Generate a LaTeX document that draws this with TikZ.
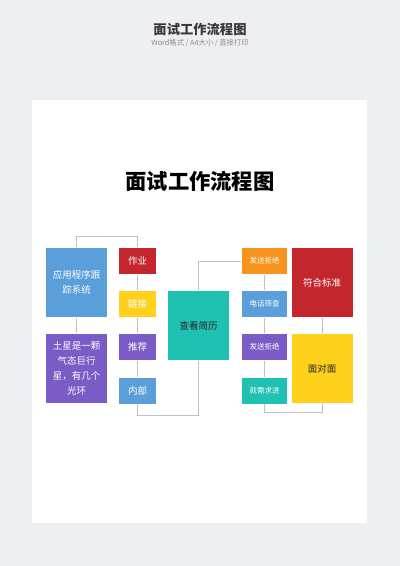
\documentclass[tikz,border=0pt]{standalone}
\usepackage{fontspec}
\setmainfont{Noto Sans CJK SC}
\newfontfamily\cjk{Noto Sans CJK SC}
\definecolor{bgc}{HTML}{EDEFF3}
\definecolor{linec}{HTML}{BCC1C9}
\definecolor{cblue}{HTML}{5A9FD9}
\definecolor{cpurple}{HTML}{7B5BC6}
\definecolor{cred}{HTML}{C4262E}
\definecolor{cyellow}{HTML}{FFD11C}
\definecolor{corange}{HTML}{F7941D}
\definecolor{cteal}{HTML}{1FC1B2}
\tikzset{
  box/.style={draw=white, line width=0.6pt, inner sep=0pt, align=center, text=white, font=\cjk\fontsize{9.5}{15}\selectfont},
  sbox/.style={box, minimum width=38pt, minimum height=27pt},
  rbox/.style={box, minimum width=46pt, minimum height=27pt, font=\cjk\fontsize{7.5}{9}\selectfont},
  bbox/.style={box, minimum width=62pt, minimum height=70pt},
  conn/.style={draw=linec, line width=0.9pt}
}
\begin{document}
\begin{tikzpicture}[x=1pt,y=-1pt]
\useasboundingbox (0,0) rectangle (400,566);
\fill[bgc] (0,0) rectangle (400,566);
\fill[black!6] (32.5,100.5) rectangle (368,524);
\fill[white] (32,100) rectangle (367,523);
\node (htitle) at (200,29) {\cjk\bfseries\fontsize{13.3}{15}\selectfont\color{black!78}面试工作流程图};
\node (hsub) at (200,43) {\cjk\fontsize{7.3}{8}\selectfont\color{black!45}Word格式 / A4大小 / 直接打印};
\node (mtitle) at (200,181) {\cjk\bfseries\fontsize{21.3}{24}\selectfont 面试工作流程图};
% left big boxes
\node[bbox, fill=cblue] (app) at (76.5,282.5) {应用程序跟\\踪系统};
\node[bbox, fill=cpurple] (saturn) at (76.5,368.5) {土星是一颗\\气态巨行\\星，有几个\\光环};
% left small column
\node[sbox, fill=cred] (zuoye) at (137.5,261) {作业};
\node[sbox, fill=cyellow] (lianjie) at (137.5,304) {链接};
\node[sbox, fill=cpurple] (tuijian) at (137.5,347) {推荐};
\node[sbox, fill=cblue] (neibu) at (137.5,390.5) {内部};
% center
\node[bbox, fill=cteal, text=black!85] (jianli) at (198.5,325.5) {查看简历};
% right small column
\node[rbox, fill=corange] (jujue1) at (264.5,261) {发送拒绝};
\node[rbox, fill=cblue] (dianhua) at (264.5,304) {电话筛查};
\node[rbox, fill=cpurple] (jujue2) at (264.5,347) {发送拒绝};
\node[rbox, fill=cteal] (xuqiu) at (264.5,390.5) {就需求进};
% right big boxes
\node[bbox, fill=cred] (fuhe) at (322,282.5) {符合标准};
\node[bbox, fill=cyellow, text=black!85] (mian) at (322,368.5) {面对面};
% connectors
\coordinate (c1) at (76.5,236);
\coordinate (c2) at (137.5,236);
\coordinate (c3) at (137.5,415);
\coordinate (c4) at (198.5,415);
\coordinate (c6) at (264.5,412);
\coordinate (c7) at (322,412);
\draw[conn] (app.north) -- (c1) -- (c2) -- (zuoye.north);
\draw[conn] (app.south) -- (saturn.north);
\draw[conn] (zuoye.south) -- (lianjie.north);
\draw[conn] (lianjie.south) -- (tuijian.north);
\draw[conn] (tuijian.south) -- (neibu.north);
\draw[conn] (neibu.south) -- (c3) -- (c4) -- (jianli.south);
\draw[conn] (jianli.north) |- (jujue1.west);
\draw[conn] (jujue1.south) -- (dianhua.north);
\draw[conn] (dianhua.south) -- (jujue2.north);
\draw[conn] (jujue2.south) -- (xuqiu.north);
\draw[conn] (xuqiu.south) -- (c6) -- (c7) -- (mian.south);
\draw[conn] (fuhe.south) -- (mian.north);
\end{tikzpicture}
\end{document}
